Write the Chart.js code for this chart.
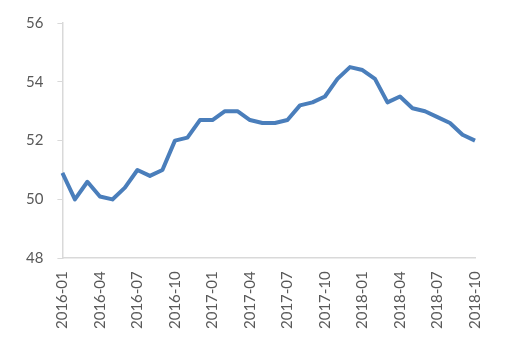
<!DOCTYPE html>
<html>
<head>
<meta charset="utf-8">
<script src="https://cdn.jsdelivr.net/npm/chart.js@4"></script>
<style>
  html, body { margin: 0; padding: 0; background: #fff; }
  #wrap { width: 511px; height: 346px; }
</style>
</head>
<body>
<div id="wrap"><canvas id="pmiChart"></canvas></div>
<script>
// monthly index readings, 2016-01 .. 2018-10
const months = [
  '2016-01', '2016-02', '2016-03', '2016-04', '2016-05', '2016-06',
  '2016-07', '2016-08', '2016-09', '2016-10', '2016-11', '2016-12',
  '2017-01', '2017-02', '2017-03', '2017-04', '2017-05', '2017-06',
  '2017-07', '2017-08', '2017-09', '2017-10', '2017-11', '2017-12',
  '2018-01', '2018-02', '2018-03', '2018-04', '2018-05', '2018-06',
  '2018-07', '2018-08', '2018-09', '2018-10'
];
const values = [
  50.9, 50.0, 50.6, 50.1, 50.0, 50.4,
  51.0, 50.8, 51.0, 52.0, 52.1, 52.7,
  52.7, 53.0, 53.0, 52.7, 52.6, 52.6,
  52.7, 53.2, 53.3, 53.5, 54.1, 54.5,
  54.4, 54.1, 53.3, 53.5, 53.1, 53.0,
  52.8, 52.6, 52.2, 52.0
];
const yTicks = [48, 50, 52, 54, 56];

document.addEventListener('DOMContentLoaded', function () {
  Chart.defaults.font.family = 'Lato';

  const ctx = document.getElementById('pmiChart').getContext('2d');

  new Chart(ctx, {
    type: 'line',
    data: {
      labels: months,
      datasets: [{
        data: values,
        borderColor: '#4a7ebb',
        borderWidth: 4,
        pointRadius: 0,
        tension: 0,
        borderJoinStyle: 'round',
      }],
    },
    options: {
      responsive: true,
      maintainAspectRatio: false,
      animation: false,
      layout: {
        padding: { left: 12, right: 36, top: 18, bottom: 4 },
      },
      plugins: {
        legend: { display: false },
        tooltip: { enabled: false },
      },
      scales: {
        x: {
          offset: false,
          grid: { display: false, drawTicks: false },
          border: { color: '#d9d9d9', width: 1.5 },
          ticks: {
            autoSkip: false,
            maxRotation: 90,
            minRotation: 90,
            padding: 13,
            color: '#595959',
            font: { size: 15 },
            callback: function (val, i) {
              return i % 3 === 0 ? months[i] : '';
            },
          },
        },
        y: {
          min: 48,
          max: 56,
          afterBuildTicks: function (axis) {
            axis.ticks = yTicks.map(v => ({ value: v }));
          },
          grid: {
            display: true,
            drawOnChartArea: false,
            drawTicks: true,
            tickLength: 5,
            color: '#d9d9d9',
          },
          border: { color: '#d9d9d9', width: 1.5 },
          ticks: {
            padding: 14,
            color: '#595959',
            font: { size: 15 },
          },
        },
      },
    },
  });
});
</script>
</body>
</html>
